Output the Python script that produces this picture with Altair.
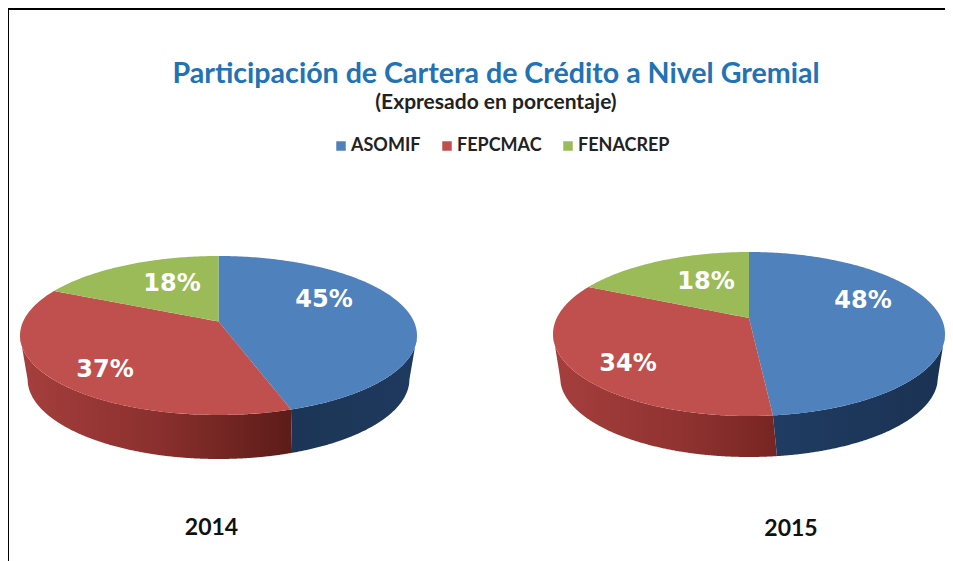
import math
import altair as alt
import pandas as pd

# ---- values
series = ["ASOMIF", "FEPCMAC", "FENACREP"]
years = ["2014", "2015"]
shares_2014 = [45.0, 37.0, 18.0]
shares_2015 = [48.4, 33.6, 18.0]
colors = ["#4f81bd", "#c0504d", "#9bbb59"]

# ---- layout of the two tilted discs, in image pixels
W, H, TOP = 937, 553, 170
DISC = {
    "2014": dict(cx=218.5, cy=335.5, rx=198.5, ry=79.5, tilt=0.176, rb=191, cyb=379, ryb=80, slant=1, shares=shares_2014),
    "2015": dict(cx=749.0, cy=334.0, rx=196.0, ry=82.0, tilt=0.195, rb=189, cyb=377, ryb=80, slant=4, shares=shares_2015),
}
LABEL_AT = {
    ("2014", "ASOMIF"): (324, 300), ("2014", "FEPCMAC"): (105, 370), ("2014", "FENACREP"): (172, 284),
    ("2015", "ASOMIF"): (863, 301), ("2015", "FEPCMAC"): (628, 364), ("2015", "FENACREP"): (706, 282),
}
YEAR_AT = {"2014": (211.5, 528), "2015": (791, 529)}


def project(d, angle, r=1.0):
    """Clockwise angle from 12 o'clock on a disc seen in perspective."""
    u, v = r * math.sin(angle), r * math.cos(angle)
    a = d["tilt"]
    den = 1 + a * v
    return (d["cx"] + d["rx"] * u * math.sqrt(1 - a * a) / den,
            d["cy"] - d["ry"] * (v + a) / den)


def sector_rows(year, d):
    rows, start = [], 0.0
    for name, share in zip(series, d["shares"]):
        a0 = start / 100 * 2 * math.pi
        a1 = (start + share) / 100 * 2 * math.pi
        start += share
        steps = max(int(share * 4), 8)
        arc = [project(d, a0 + (a1 - a0) * i / steps) for i in range(steps + 1)]
        poly = [project(d, 0, 0.0)] + arc
        n = len(poly)
        for px in sorted({p[0] for p in poly}):
            ys = []
            for i in range(n):
                (x0, y0), (x1, y1) = poly[i], poly[(i + 1) % n]
                if min(x0, x1) <= px <= max(x0, x1):
                    if x0 == x1:
                        ys += [y0, y1]
                    else:
                        ys.append(y0 + (y1 - y0) * (px - x0) / (x1 - x0))
            rows.append(dict(year=year, series=name, x=px, y=min(ys), y2=max(ys)))
    return rows


def wall_rows(year, d):
    cx, cy, rx, ry, rb, cyb, ryb = (d[k] for k in ("cx", "cy", "rx", "ry", "rb", "cyb", "ryb"))
    split = d["shares"][0] / 100 * 2 * math.pi
    x1, y1 = project(d, split)

    def top(x):
        return cy + ry * math.sqrt(max(0.0, 1 - ((x - cx) / rx) ** 2))

    def bottom(x):
        dx = abs(x - cx)
        if dx <= rb:
            return cyb + ryb * math.sqrt(max(0.0, 1 - (dx / rb) ** 2))
        return cyb + (cy - cyb) * (dx - rb) / (rx - rb)

    x2 = x1 + d["slant"]
    y2 = bottom(x2)

    def divide(x):
        return y1 + (y2 - y1) * (x - x1) / (x2 - x1)

    rows = []
    xs = sorted({cx - rx + 2 * rx * i / 400 for i in range(401)} | {x1, x2, cx - rb, cx + rb})
    for x in xs:
        if x <= x2:
            upper = top(x) if x <= x1 else divide(x)
            rows.append(dict(year=year, part="FEPCMAC", x=x, y=upper, y2=bottom(x)))
        if x >= x1:
            lower = bottom(x) if x >= x2 else divide(x)
            rows.append(dict(year=year, part="ASOMIF", x=x, y=top(x), y2=lower))
    return rows


faces = pd.DataFrame([r for y in years for r in sector_rows(y, DISC[y])])
walls = pd.DataFrame([r for y in years for r in wall_rows(y, DISC[y])])
labels = pd.DataFrame([
    dict(year=y, series=s, share=v, x=LABEL_AT[(y, s)][0], y=LABEL_AT[(y, s)][1],
         text=f"{round(v)}%")
    for y in years for s, v in zip(series, DISC[y]["shares"])
])
year_labels = pd.DataFrame([dict(year=y, x=YEAR_AT[y][0], y=YEAR_AT[y][1]) for y in years])

X = alt.X("x:Q", scale=alt.Scale(domain=[8, 8 + W]), axis=None)
Y = alt.Y("y:Q", scale=alt.Scale(domain=[8 + H, 8 + TOP]), axis=None)


def gradient(*stops):
    return alt.Gradient(gradient="linear", x1=0, x2=1, y1=0, y2=0,
                        stops=[alt.GradientStop(offset=o, color=c) for o, c in stops])


def wall(year, part, fill):
    data = walls[(walls.year == year) & (walls.part == part)]
    return alt.Chart(data).mark_area(orient="vertical", fill=fill).encode(x=X, y=Y, y2="y2:Q")


wall_layers = [
    wall("2014", "FEPCMAC", gradient((0, "#a53f3d"), (0.5, "#8b302e"), (1, "#5c1c18"))),
    wall("2014", "ASOMIF", gradient((0, "#1c3556"), (1, "#1f3a5f"))),
    wall("2015", "FEPCMAC", gradient((0, "#a53f3d"), (0.6, "#8f3230"), (1, "#772522"))),
    wall("2015", "ASOMIF", gradient((0, "#203c62"), (1, "#1a3253"))),
]

face_layer = alt.Chart(faces).mark_area(orient="vertical").encode(
    x=X, y=Y, y2="y2:Q", detail="year:N",
    color=alt.Color(
        "series:N",
        scale=alt.Scale(domain=series, range=colors),
        sort=series,
        legend=alt.Legend(
            title=None, orient="none", direction="horizontal", columns=3,
            legendX=324, legendY=-41, symbolType="square", symbolSize=90,
            labelFont="Lato", labelFontWeight="bold", labelFontSize=18, labelColor="#222222",
            columnPadding=17, symbolOffset=0, labelOffset=1,
        ),
    ),
)

label_layer = alt.Chart(labels).mark_text(
    font="DejaVu Sans", fontWeight="bold", fontSize=24, color="white", baseline="middle", align="center"
).encode(x=X, y=Y, text="text:N")

year_layer = alt.Chart(year_labels).mark_text(
    font="Lato", fontWeight="bold", fontSize=23, color="#111111", baseline="middle", align="center"
).encode(x=X, y=Y, text="year:N")

frame_top = alt.Chart(pd.DataFrame({"k": [0]})).mark_rule(color="black", strokeWidth=2).encode(
    x=alt.value(0), x2=alt.value(W), y=alt.value(-TOP + 1))
frame_left = alt.Chart(pd.DataFrame({"k": [0]})).mark_rule(color="black", strokeWidth=2).encode(
    x=alt.value(0), y=alt.value(-TOP), y2=alt.value(H - TOP))

chart = alt.layer(*wall_layers, face_layer, label_layer, year_layer, frame_top, frame_left).properties(
    width=W, height=H - TOP,
    padding={"left": 0, "top": TOP, "right": 0, "bottom": 0},
    autosize=alt.AutoSizeParams(type="none"),
    background="white",
    title=alt.TitleParams(
        text="Participación de Cartera de Crédito a Nivel Gremial",
        subtitle="(Expresado en porcentaje)",
        anchor="middle", dx=19.5, offset=-106,
        font="Lato", fontWeight="bold", fontSize=28.6, color="#2272b4",
        subtitleFont="Lato", subtitleFontWeight="bold", subtitleFontSize=21,
        subtitleColor="#222222", subtitlePadding=3,
    ),
).configure_view(stroke=None)

chart.save("out.html", embed_options={"renderer": "svg", "actions": False})
